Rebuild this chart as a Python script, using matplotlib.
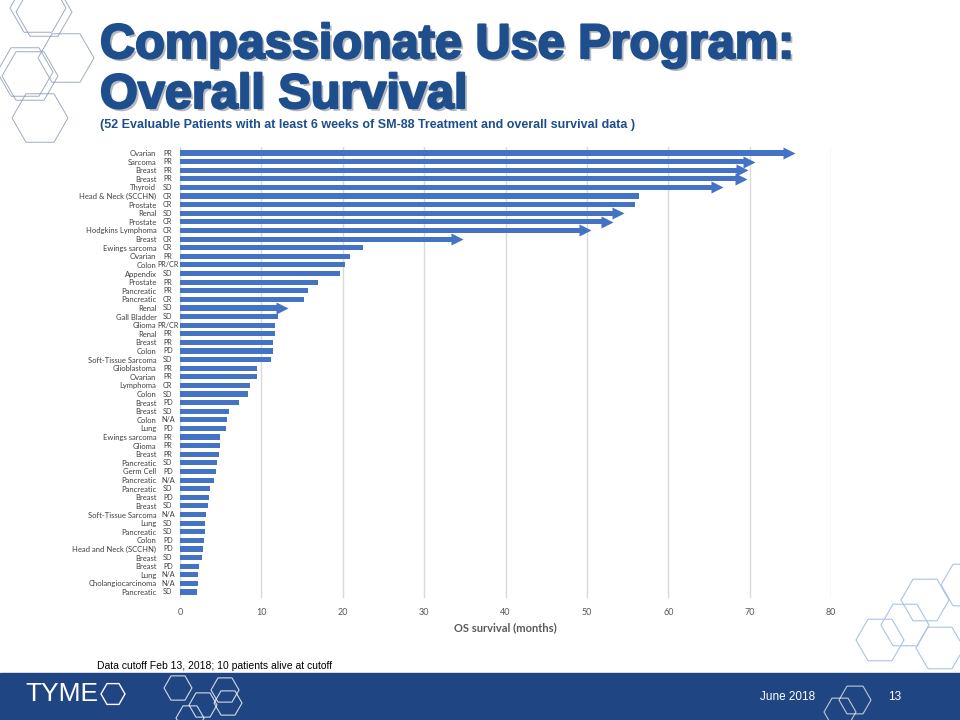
import matplotlib
matplotlib.use("Agg")
import matplotlib.pyplot as plt
import matplotlib.patheffects as pe
from matplotlib.patches import RegularPolygon, Rectangle
import numpy as np

# one row per patient, top to bottom
cancers = ["Ovarian", "Sarcoma", "Breast", "Breast", "Thyroid", "Head & Neck (SCCHN)",
           "Prostate", "Renal", "Prostate", "Hodgkins Lymphoma", "Breast", "Ewings sarcoma",
           "Ovarian", "Colon", "Appendix", "Prostate", "Pancreatic", "Pancreatic", "Renal",
           "Gall Bladder", "Glioma", "Renal", "Breast", "Colon", "Soft-Tissue Sarcoma",
           "Glioblastoma", "Ovarian", "Lymphoma", "Colon", "Breast", "Breast", "Colon", "Lung",
           "Ewings sarcoma", "Glioma", "Breast", "Pancreatic", "Germ Cell", "Pancreatic",
           "Pancreatic", "Breast", "Breast", "Soft-Tissue Sarcoma", "Lung", "Pancreatic",
           "Colon", "Head and Neck (SCCHN)", "Breast", "Breast", "Lung", "Cholangiocarcinoma",
           "Pancreatic"]
responses = ["PR", "PR", "PR", "PR", "SD", "CR", "CR", "SD", "CR", "CR", "CR", "CR", "PR",
             "PR/CR", "SD", "PR", "PR", "CR", "SD", "SD", "PR/CR", "PR", "PR", "PD", "SD",
             "PR", "PR", "CR", "SD", "PD", "SD", "N/A", "PD", "PR", "PR", "PR", "SD", "PD",
             "N/A", "SD", "PD", "SD", "N/A", "SD", "SD", "PD", "PD", "SD", "PD", "N/A", "N/A",
             "SD"]
os_months = [74.3, 69.4, 68.6, 68.4, 65.5, 56.4, 55.9, 53.3, 52.0, 49.3, 33.5, 22.5, 20.9,
             20.3, 19.7, 17.0, 15.7, 15.2, 12.0, 12.0, 11.7, 11.7, 11.4, 11.4, 11.2, 9.5, 9.5,
             8.6, 8.4, 7.2, 6.0, 5.8, 5.6, 4.9, 4.9, 4.8, 4.5, 4.4, 4.2, 3.7, 3.6, 3.4, 3.2,
             3.1, 3.1, 2.9, 2.8, 2.7, 2.3, 2.2, 2.2, 2.1]
alive = [1, 1, 1, 1, 1, 0, 0, 1, 1, 1, 1, 0, 0, 0, 0, 0, 0, 0, 1, 0, 0, 0, 0, 0, 0, 0, 0,
         0, 0, 0, 0, 0, 0, 0, 0, 0, 0, 0, 0, 0, 0, 0, 0, 0, 0, 0, 0, 0, 0, 0, 0, 0]

navy = "#1F4682"
title_blue = "#1F4E8C"
bar_blue = "#4472C4"

fig = plt.figure(figsize=(9.6, 7.2), dpi=100)

# slide background layer in pixel units
bg = fig.add_axes([0, 0, 1, 1])
bg.set_xlim(0, 960)
bg.set_ylim(720, 0)
bg.axis("off")

bg.add_patch(Rectangle((0, 673), 960, 47, color=navy, zorder=1))

def hexes(centres, r, color, lw=0.9, alpha=1.0):
    for cx, cy in centres:
        bg.add_patch(RegularPolygon((cx, cy), 6, radius=r, orientation=np.pi / 6,
                                    fill=False, ec=color, lw=lw, alpha=alpha, zorder=2))

hexes([(38, 8), (44, 12), (66, 58), (25, 72), (30, 76), (40, 118)], 28, "#8797B0", lw=0.7, alpha=0.8)
hexes([(880, 640), (925, 600), (940, 648), (965, 585), (905, 625)], 24, "#A9C3E8", lw=0.8)
hexes([(178, 688), (203, 705), (228, 703), (190, 718), (225, 690)], 14, "white", lw=0.8, alpha=0.8)
hexes([(855, 700), (840, 712)], 16, "white", lw=0.8, alpha=0.7)
hexes([(113, 694)], 12, "white", lw=1.0)

shadow = [pe.SimplePatchShadow(offset=(2, -2), alpha=0.3),
          pe.Stroke(linewidth=1.6, foreground=title_blue), pe.Normal()]
for txt, base in [("Compassionate Use Program:", 58), ("Overall Survival", 108)]:
    t = bg.text(100, base, txt, fontsize=35, fontweight="bold", color=title_blue,
                family="Liberation Sans", va="baseline")
    t.set_path_effects(shadow)
bg.text(100, 128, "(52 Evaluable Patients with at least 6 weeks of SM-88 Treatment and "
        "overall survival data )", fontsize=9, fontweight="bold", color=title_blue,
        family="Liberation Sans", va="baseline")
bg.text(97, 669, "Data cutoff Feb 13, 2018; 10 patients alive at cutoff", fontsize=7.5,
        color="black", family="Liberation Sans", va="baseline")
bg.text(25, 694, "TYME", fontsize=19, color="white", family="Liberation Sans", va="center")
bg.text(760, 697, "June 2018", fontsize=8.5, color="white", family="Liberation Sans", va="center")
bg.text(888, 697, "13", fontsize=8.5, color="white", family="Liberation Sans", va="center")

# chart
ax = fig.add_axes([180 / 960, (720 - 598) / 720, 651 / 960, 451 / 720])
y = np.arange(len(cancers))
vals = np.array(os_months)
live = np.array(alive, dtype=bool)
ax.barh(y, vals, height=0.6, color=bar_blue, zorder=3)
ax.scatter(vals[live] + 0.5, y[live], marker=">", s=75, color=bar_blue, zorder=4, lw=0)

ax.set_xlim(0, 80)
ax.set_ylim(len(cancers) - 0.3, -0.7)
ax.set_xticks(range(0, 81, 10))
ax.grid(axis="x", color="#D9D9D9", lw=1, zorder=0)
for s in ax.spines.values():
    s.set_visible(False)
ax.tick_params(length=0)
ax.set_yticks(y)
ax.set_yticklabels(cancers, fontsize=5.5, color="#404040", family="Lato")
ax.tick_params(axis="y", pad=17)
ax.tick_params(axis="x", pad=7, labelsize=6.5, labelcolor="#595959")
for lab in ax.get_xticklabels():
    lab.set_family("Lato")
for yi, r in zip(y, responses):
    ax.text(-1.5, yi, r, ha="center", va="center", fontsize=5.2, color="#404040", family="Lato")
ax.set_xlabel("OS survival (months)", fontsize=8, fontweight="bold", color="#595959",
              family="Lato", labelpad=4)

fig.savefig("out.png", dpi=100)
